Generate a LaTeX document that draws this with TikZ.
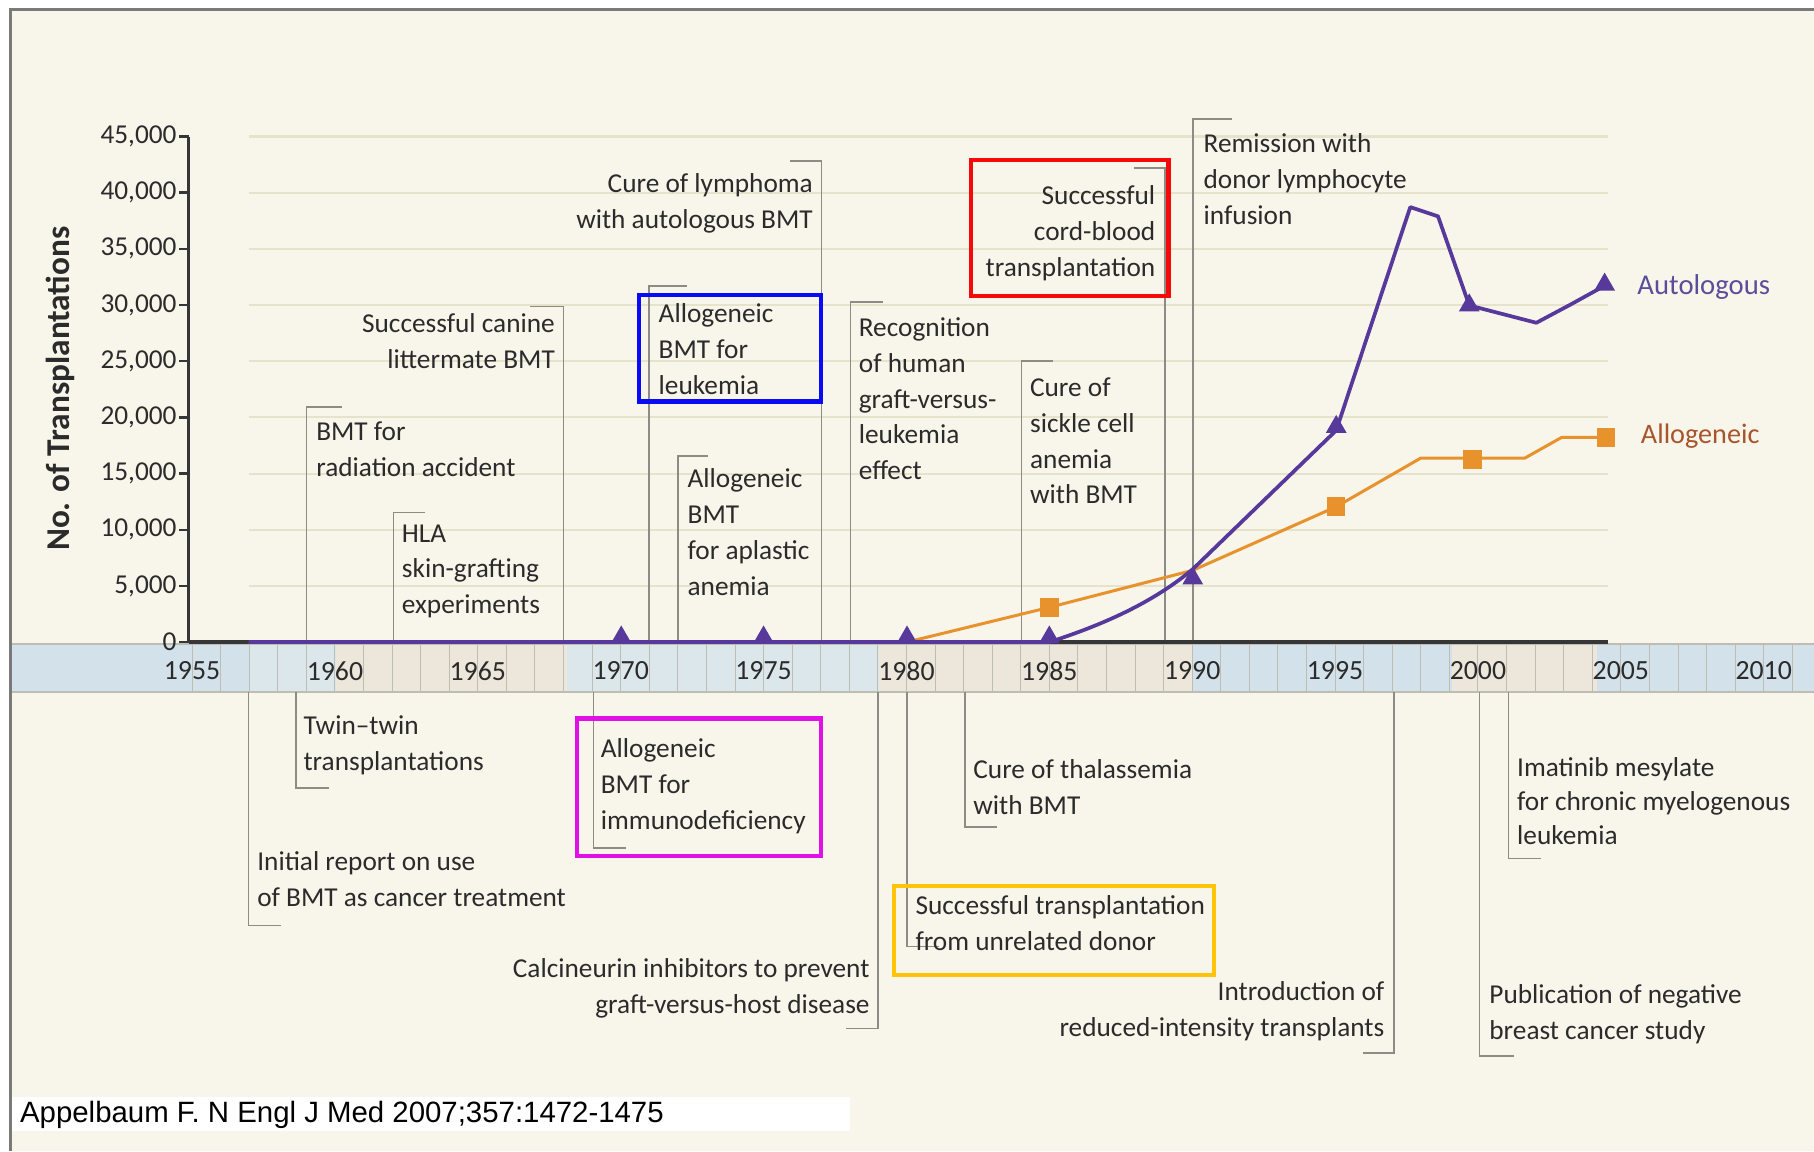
\documentclass[tikz,border=0pt]{standalone}
\usepackage{fontspec}
\setmainfont{Carlito}
\newfontfamily\citefont{Liberation Sans}
\usetikzlibrary{shapes.geometric}
\definecolor{cream}{HTML}{F8F6EB}
\definecolor{framegray}{HTML}{7A7A7A}
\definecolor{gridc}{HTML}{E6E2CC}
\definecolor{anngray}{HTML}{8C8C84}
\definecolor{txt}{HTML}{2B2B2B}
\definecolor{axisc}{HTML}{363636}
\definecolor{autoc}{HTML}{56399A}
\definecolor{alloc}{HTML}{E8922E}
\definecolor{autotxt}{HTML}{5A4E9A}
\definecolor{allotxt}{HTML}{A8552E}
\definecolor{bandblue}{HTML}{D2E1EA}
\definecolor{bandlblue}{HTML}{DCE7EC}
\definecolor{bandbeige}{HTML}{EDE6DA}
\definecolor{bandline}{HTML}{BDBDB4}
\definecolor{boxblue}{HTML}{0A0AF5}
\definecolor{boxred}{HTML}{F50A0A}
\definecolor{boxmag}{HTML}{E010E6}
\definecolor{boxyel}{HTML}{FFC408}
\tikzset{
  ann/.style={draw=anngray, line width=0.65pt},
  lab/.style={inner sep=0pt, align=left, anchor=north west, text=txt,
    font=\fontsize{11.8}{15.5}\selectfont},
  labr/.style={lab, align=right, anchor=north east},
  hibox/.style={line width=1.8pt},
  tri/.style={regular polygon, regular polygon sides=3, minimum size=10.4pt,
    inner sep=0pt, fill=autoc},
  sq/.style={rectangle, minimum size=8pt, inner sep=0pt, fill=alloc},
  ytl/.style={anchor=east, inner sep=0pt, text=txt, font=\fontsize{11.8}{14}\selectfont},
  yrl/.style={inner sep=0pt, text=txt, font=\fontsize{12}{14}\selectfont},
}
\begin{document}
\begin{tikzpicture}[x=0.5pt,y=-0.5pt]
\useasboundingbox (0,0) rectangle (1568,995);
\fill[white] (0,0) rectangle (1568,995);
\fill[cream] (9,8) rectangle (1568,995);
% year band
\fill[bandblue] (9,557) rectangle (215,598);
\fill[bandlblue] (215,557) rectangle (290,598);
\fill[bandbeige] (290,557) rectangle (490,598);
\fill[bandlblue] (490,557) rectangle (760,598);
\fill[bandbeige] (760,557) rectangle (1031,598);
\fill[bandblue] (1031,557) rectangle (1255,598);
\fill[bandbeige] (1255,557) rectangle (1380,598);
\fill[bandblue] (1380,557) rectangle (1568,598);
\foreach \yr in {1955,...,2012}
  \draw[bandline, line width=0.4pt] ({166+(\yr-1955)*24.7},557) -- ({166+(\yr-1955)*24.7},598);
\draw[bandline, line width=0.8pt] (9,557) -- (1568,557);
\draw[bandline, line width=0.8pt] (9,598) -- (1568,598);
\foreach \yr in {1955,1960,...,2010}
  \node[yrl] (yr\yr) at ({166+(\yr-1955)*24.7},580) {\yr};
% frame
\draw[framegray, line width=1.2pt] (9,995) -- (9,8) -- (1568,8);
% grid
\foreach \k in {1,...,9}
  \draw[gridc, line width=0.9pt] (215,{555-\k*48.56}) -- (1390,{555-\k*48.56});
% annotation brackets, upper
\draw[ann] (265,555) -- (265,352) -- (296,352);
\draw[ann] (340,555) -- (340,443) -- (367,443);
\draw[ann] (487,555) -- (487,265) -- (458,265);
\draw[ann] (561,555) -- (561,247) -- (594,247);
\draw[ann] (586,555) -- (586,394) -- (612,394);
\draw[ann] (710,555) -- (710,139) -- (683,139);
\draw[ann] (735,555) -- (735,261) -- (763,261);
\draw[ann] (883,555) -- (883,312) -- (910,312);
\draw[ann] (1007,555) -- (1007,145) -- (980,145);
\draw[ann] (1031,555) -- (1031,103) -- (1065,103);
% annotation brackets, lower
\draw[ann] (256,598) -- (256,681) -- (284,681);
\draw[ann] (215,598) -- (215,800) -- (243,800);
\draw[ann] (513,598) -- (513,733) -- (541,733);
\draw[ann] (759,598) -- (759,889) -- (731,889);
\draw[ann] (784,598) -- (784,818) -- (812,818);
\draw[ann] (834,598) -- (834,715) -- (862,715);
\draw[ann] (1205,598) -- (1205,910) -- (1178,910);
\draw[ann] (1279,598) -- (1279,913) -- (1309,913);
\draw[ann] (1304,598) -- (1304,742) -- (1332,742);
% y axis
\draw[axisc, line width=1.1pt] (163,555) -- (163,118);
\node[ytl] (yt0) at (153,555) {0};
\draw[axisc, line width=1pt] (155,555) -- (163,555);
\foreach \k in {1,...,9}{
  \pgfmathtruncatemacro\v{5*\k}
  \draw[axisc, line width=1pt] (155,{555-\k*48.56}) -- (163,{555-\k*48.56});
  \node[ytl] (yt\k) at (153,{555-\k*48.56}) {\v,000};
}
\node[rotate=90, inner sep=0pt, text=txt, font=\fontsize{14.4}{16}\selectfont\bfseries] (ytitle) at (52,336) {No. of Transplantations};
% x axis line
\draw[axisc, line width=2pt] (163,555) -- (1390,555);
% data coordinates
\coordinate (a57) at (215,555);
\coordinate (a85) at (907,555);
\coordinate (a90) at (1031,492);
\coordinate (a95) at (1155,372);
\coordinate (apk) at (1219,179);
\coordinate (apk2) at (1243,187);
\coordinate (a00) at (1270,264);
\coordinate (a02) at (1328,279);
\coordinate (a03) at (1358,263);
\coordinate (a05) at (1387,247);
\coordinate (g80) at (784,555);
\coordinate (g85) at (907,525);
\coordinate (g90) at (1031,493);
\coordinate (g95) at (1155,438);
\coordinate (g98) at (1228,396);
\coordinate (g02) at (1318,396);
\coordinate (g03) at (1350,378);
\coordinate (g05) at (1388,378);
\draw[alloc, line width=1.3pt, line join=round] (g80) -- (g85) -- (g90) -- (g95) -- (g98) -- (g02) -- (g03) -- (g05);
\draw[autoc, line width=1.6pt, line join=round] (a57) -- (a85) .. controls (960,538) and (1000,518) .. (a90) -- (a95) -- (apk) -- (apk2) -- (a00) -- (a02) -- (a03) -- (a05);
% markers
\node[tri] (t70) at (537,551) {};
\node[tri] (t75) at (660,551) {};
\node[tri] (t80) at (784,551) {};
\node[tri] (t85) at (907,551) {};
\node[tri] (t90) at (1031,500) {};
\node[tri] (t95) at (1155,369) {};
\node[tri] (t00) at (1270,264) {};
\node[tri] (t05) at (1387,246) {};
\node[sq] (s85) at (907,525) {};
\node[sq] (s95) at (1155,438) {};
\node[sq] (s00) at (1273,397) {};
\node[sq] (s05) at (1388,378) {};
\node[anchor=west, inner sep=0pt, text=autotxt, font=\fontsize{12.4}{14}\selectfont] (lauto) at (1415,248) {Autologous};
\node[anchor=west, inner sep=0pt, text=allotxt, font=\fontsize{12.2}{14}\selectfont] (lallo) at (1418,377) {Allogeneic};
% labels, upper
\node[lab] (n1) at (273,364) {BMT for\\radiation accident};
\node[lab] (n2) at (347,453) {HLA\\skin-grafting\\experiments};
\node[labr] (n3) at (480,271) {Successful canine\\littermate BMT};
\node[lab] (n4) at (569,262) {Allogeneic\\BMT for\\leukemia};
\node[lab] (n5) at (594,405) {Allogeneic\\BMT\\for aplastic\\anemia};
\node[labr] (n6) at (703,150) {Cure of lymphoma\\with autologous BMT};
\node[lab] (n7) at (742,274) {Recognition\\of human\\graft-versus-\\leukemia\\effect};
\node[lab] (n8) at (890,326) {Cure of\\sickle cell\\anemia\\with BMT};
\node[labr] (n9) at (999,160) {Successful\\cord-blood\\transplantation};
\node[lab] (n10) at (1040,115) {Remission with\\donor lymphocyte\\infusion};
% labels, lower
\node[lab] (n11) at (262,618) {Twin–twin\\transplantations};
\node[lab] (n12) at (222,736) {Initial report on use\\of BMT as cancer treatment};
\node[lab] (n13) at (519,638) {Allogeneic\\BMT for\\immunodeficiency};
\node[labr] (n14) at (752,828) {Calcineurin inhibitors to prevent\\graft-versus-host disease};
\node[lab] (n15) at (791,774) {Successful transplantation\\from unrelated donor};
\node[lab] (n16) at (841,656) {Cure of thalassemia\\with BMT};
\node[labr] (n17) at (1197,848) {Introduction of\\reduced-intensity transplants};
\node[lab] (n18) at (1287,851) {Publication of negative\\breast cancer study};
\node[lab, font=\fontsize{11.8}{14.8}\selectfont] (n19) at (1311,654) {Imatinib mesylate\\for chronic myelogenous\\leukemia};
% highlight boxes
\draw[boxblue, hibox] (552,255) rectangle (710,347);
\draw[boxred, hibox] (839,138) rectangle (1010,256);
\draw[boxmag, hibox] (499,621) rectangle (710,740);
\draw[boxyel, hibox] (773,766) rectangle (1049,843);
% citation
\fill[white] (10,948) rectangle (735,978);
\node[anchor=west, inner sep=0pt, text=black, font=\citefont\fontsize{12.7}{14}\selectfont] (cite) at (17,964) {Appelbaum F. N Engl J Med 2007;357:1472-1475};
\end{tikzpicture}
\end{document}
